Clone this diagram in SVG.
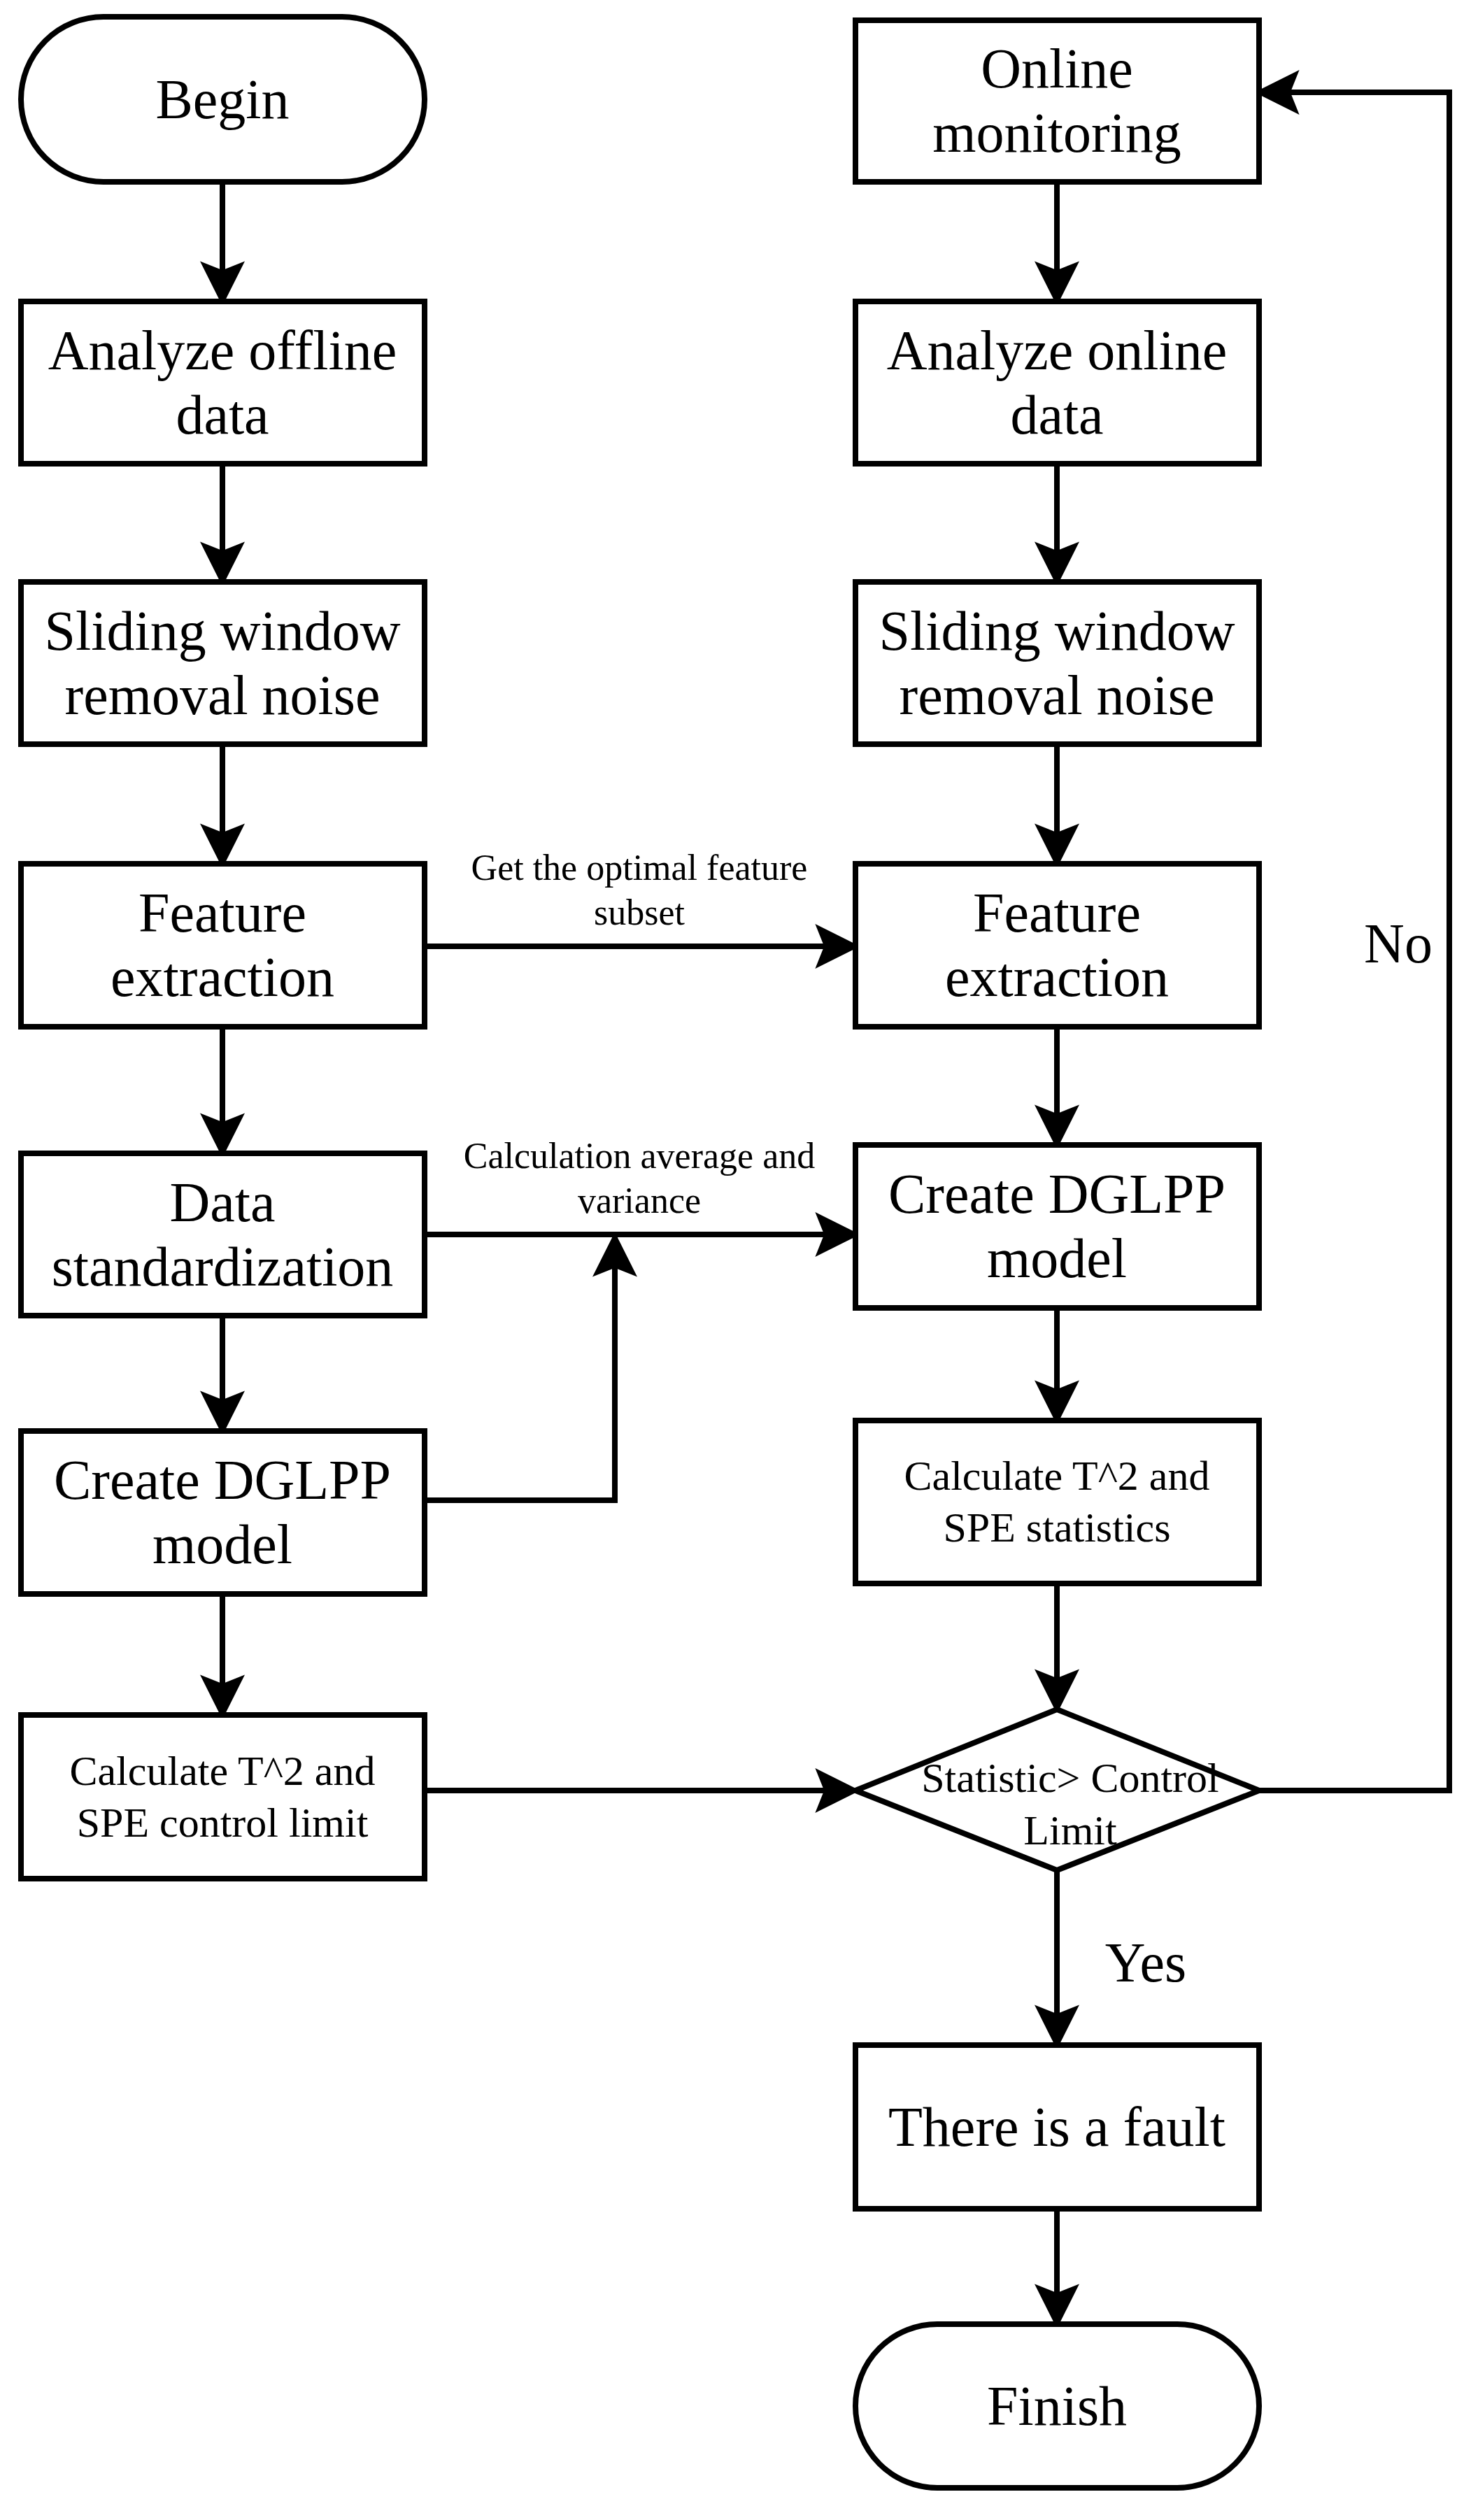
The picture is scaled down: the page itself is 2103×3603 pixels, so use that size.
<svg xmlns="http://www.w3.org/2000/svg" width="2103" height="3603" viewBox="0 0 2103 3603">
<style>
.b{fill:#fff;stroke:#000;stroke-width:8}
.t{font-family:"Liberation Serif",serif;font-size:80px;text-anchor:middle;dominant-baseline:central;fill:#000}
.s{font-size:60px}
.l{font-family:"Liberation Serif",serif;font-size:52px;text-anchor:middle;dominant-baseline:central;fill:#000}
.c{fill:none;stroke:#000;stroke-width:8}
</style>
<defs><marker id="a" viewBox="0 0 10 10" refX="9" refY="5" markerWidth="7" markerHeight="7" markerUnits="userSpaceOnUse" orient="auto"><path d="M0,0 L10,5 L0,10 z" fill="#000" transform="scale(1)"/></marker>
<marker id="m" viewBox="0 0 10 10" refX="9" refY="5" markerWidth="8" markerHeight="8" orient="auto"><path d="M0,0 L10,5 L0,10 L2,5 z" fill="#000"/></marker></defs>
<g id="connectors" class="c" marker-end="url(#m)">
<path d="M318,260 V431"/><path d="M318,663 V832"/><path d="M318,1064 V1235"/><path d="M318,1468 V1649"/><path d="M318,1881 V2046"/><path d="M318,2279 V2452"/>
<path d="M1511,260 V431"/><path d="M1511,663 V832"/><path d="M1511,1064 V1235"/><path d="M1511,1468 V1637"/><path d="M1511,1870 V2031"/><path d="M1511,2264 V2444"/><path d="M1511,2674 V2924"/><path d="M1511,3158 V3323"/>
<path d="M607,1353 H1223"/><path d="M607,1765 H1223"/><path d="M607,2145 H879 V1768"/><path d="M607,2560 H1223"/>
<path d="M1800,2560 H2072 V132 H1800"/>
</g>
<g id="begin"><rect class="b" x="30" y="24" width="577" height="236" rx="118"/><text class="t" x="318" y="142">Begin</text></g>
<g id="offline"><rect class="b" x="30" y="431" width="577" height="232"/><text class="t" x="318" y="501">Analyze offline</text><text class="t" x="318" y="593">data</text></g>
<g id="sliding1"><rect class="b" x="30" y="832" width="577" height="232"/><text class="t" x="318" y="902">Sliding window</text><text class="t" x="318" y="994">removal noise</text></g>
<g id="feature1"><rect class="b" x="30" y="1235" width="577" height="233"/><text class="t" x="318" y="1305">Feature</text><text class="t" x="318" y="1397">extraction</text></g>
<g id="std"><rect class="b" x="30" y="1649" width="577" height="232"/><text class="t" x="318" y="1719">Data</text><text class="t" x="318" y="1811">standardization</text></g>
<g id="dglpp1"><rect class="b" x="30" y="2046" width="577" height="233"/><text class="t" x="318" y="2116">Create DGLPP</text><text class="t" x="318" y="2208">model</text></g>
<g id="limit"><rect class="b" x="30" y="2452" width="577" height="234"/><text class="t s" x="318" y="2532">Calculate T^2 and</text><text class="t s" x="318" y="2606">SPE control limit</text></g>
<g id="online"><rect class="b" x="1223" y="29" width="577" height="231"/><text class="t" x="1511" y="98">Online</text><text class="t" x="1511" y="190">monitoring</text></g>
<g id="onlinedata"><rect class="b" x="1223" y="431" width="577" height="232"/><text class="t" x="1511" y="501">Analyze online</text><text class="t" x="1511" y="593">data</text></g>
<g id="sliding2"><rect class="b" x="1223" y="832" width="577" height="232"/><text class="t" x="1511" y="902">Sliding window</text><text class="t" x="1511" y="994">removal noise</text></g>
<g id="feature2"><rect class="b" x="1223" y="1235" width="577" height="233"/><text class="t" x="1511" y="1305">Feature</text><text class="t" x="1511" y="1397">extraction</text></g>
<g id="dglpp2"><rect class="b" x="1223" y="1637" width="577" height="233"/><text class="t" x="1511" y="1707">Create DGLPP</text><text class="t" x="1511" y="1799">model</text></g>
<g id="stats"><rect class="b" x="1223" y="2031" width="577" height="233"/><text class="t s" x="1511" y="2110">Calculate T^2 and</text><text class="t s" x="1511" y="2184">SPE statistics</text></g>
<g id="decision"><polygon class="b" points="1511,2444 1800,2560 1511,2674 1223,2560"/><text class="t s" x="1530" y="2542">Statistic&gt; Control</text><text class="t s" x="1530" y="2617">Limit</text></g>
<g id="fault"><rect class="b" x="1223" y="2924" width="577" height="234"/><text class="t" x="1511" y="3041">There is a fault</text></g>
<g id="finish"><rect class="b" x="1223" y="3323" width="577" height="234" rx="117"/><text class="t" x="1511" y="3440">Finish</text></g>
<g id="labels">
<text class="l" x="914" y="1240">Get the optimal feature</text><text class="l" x="914" y="1304">subset</text>
<text class="l" x="914" y="1652">Calculation average and</text><text class="l" x="914" y="1716">variance</text>
<text class="t" x="1638" y="2806">Yes</text><text class="t" x="1999" y="1349">No</text>
</g>
</svg>
